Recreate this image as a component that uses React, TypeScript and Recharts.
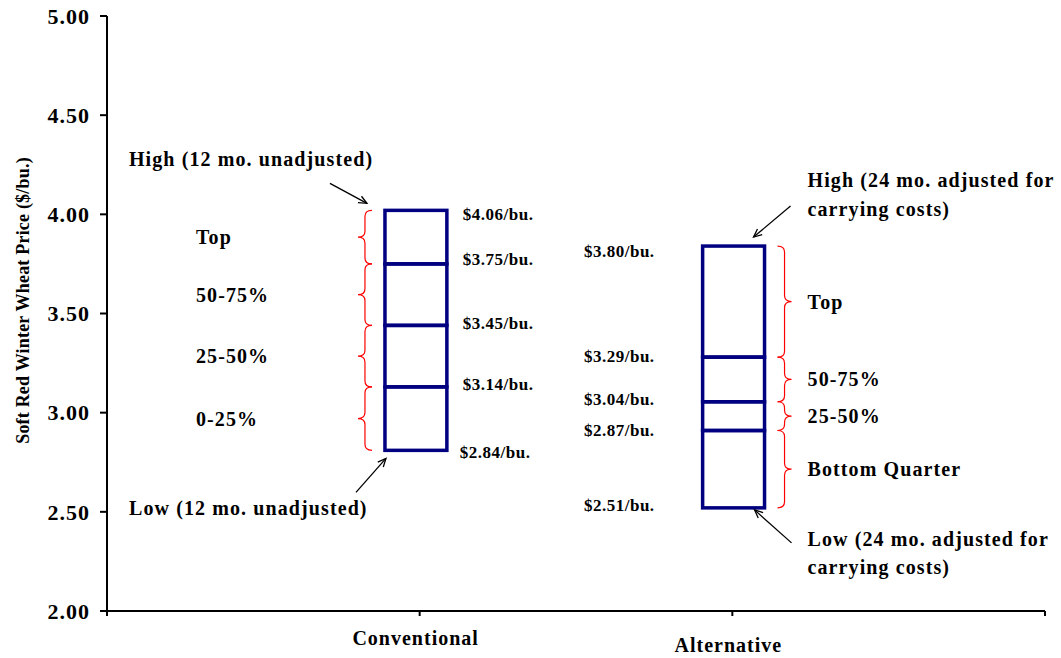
import { ComposedChart, XAxis, YAxis, ReferenceArea, Line } from 'recharts'

const categories = ['Conventional', 'Alternative']
// box edges top to bottom, $/bu. (as drawn)
const conventionalLevels = [4.02, 3.75, 3.44, 3.13, 2.81]
const alternativeLevels = [3.84, 3.28, 3.055, 2.91, 2.52]
const conventionalPrices = ['$4.06/bu.', '$3.75/bu.', '$3.45/bu.', '$3.14/bu.', '$2.84/bu.']
const alternativePrices = ['$3.80/bu.', '$3.29/bu.', '$3.04/bu.', '$2.87/bu.', '$2.51/bu.']
const conventionalBands = ['Top', '50-75%', '25-50%', '0-25%']
const alternativeBands = ['Top', '50-75%', '25-50%', 'Bottom Quarter']
const conventionalHigh = ['High (12 mo. unadjusted)']
const conventionalLow = ['Low (12 mo. unadjusted)']
const alternativeHigh = ['High (24 mo. adjusted for', 'carrying costs)']
const alternativeLow = ['Low (24 mo. adjusted for', 'carrying costs)']
const yTicks = [2, 2.5, 3, 3.5, 4, 4.5, 5]
const xTicks = [0, 1, 2, 3]

const FONT = '"Liberation Serif", "Times New Roman", serif'
const NAVY = '#000080'
const HALF_W = 0.099

const boxes = [
  {
    name: categories[0], levels: conventionalLevels, prices: conventionalPrices, bands: conventionalBands,
    high: conventionalHigh, low: conventionalLow, side: 'left', shift: -0.012,
    priceDy: [10, 1, 4, 3, 8],
  },
  {
    name: categories[1], levels: alternativeLevels, prices: alternativePrices, bands: alternativeBands,
    high: alternativeHigh, low: alternativeLow, side: 'right', shift: 0.004,
    priceDy: [11, 5, 3, 5, 3],
  },
]

const chartData = boxes.map((b, i) => ({
  x: i + 1,
  name: b.name,
  high: b.levels[0],
  low: b.levels[b.levels.length - 1],
}))

const bold = { fontFamily: FONT, fontWeight: 'bold' as const, fill: '#000' }

function bracePath(y1: number, y2: number, endX: number, spineX: number, tipX: number) {
  const r = 6
  const m = (y1 + y2) / 2
  return `M${endX},${y1} Q${spineX},${y1} ${spineX},${y1 + r} L${spineX},${m - r} Q${spineX},${m} ${tipX},${m} ` +
    `Q${spineX},${m} ${spineX},${m + r} L${spineX},${y2 - r} Q${spineX},${y2} ${endX},${y2}`
}

function Arrow({ x1, y1, x2, y2 }: { x1: number; y1: number; x2: number; y2: number }) {
  const a = Math.atan2(y2 - y1, x2 - x1)
  const L = 9
  const s = 0.42
  const p1 = `${x2 - L * Math.cos(a - s)},${y2 - L * Math.sin(a - s)}`
  const p2 = `${x2 - L * Math.cos(a + s)},${y2 - L * Math.sin(a + s)}`
  return (
    <g>
      <line x1={x1} y1={y1} x2={x2} y2={y2} stroke="#000" strokeWidth={1.3} />
      <path d={`M${p1} L${x2},${y2} L${p2}`} fill="none" stroke="#000" strokeWidth={1.3} />
    </g>
  )
}

function makeSegment(b: (typeof boxes)[number], i: number) {
  return (props: any) => {
    const { x, y, width, height } = props
    const left = b.side === 'left'
    const edge = left ? x : x + width
    const dir = left ? -1 : 1
    const last = i === b.bands.length - 1
    const priceX = left ? x + width + 16 : x - 48
    const anchor = left ? 'start' : 'end'
    return (
      <g>
        <rect x={x} y={y} width={width} height={height} fill="none" stroke={NAVY} strokeWidth={3.5} />
        <path
          d={bracePath(y, y + height, edge + dir * 13, edge + dir * 20, edge + dir * 27)}
          fill="none" stroke="#ff0000" strokeWidth={1.2}
        />
        <text x={left ? x - 189 : x + width + 43} y={y + height / 2 + 7} fontSize={20} letterSpacing={1.1} {...bold}>
          {b.bands[i]}
        </text>
        <text x={priceX} y={y + b.priceDy[i]} fontSize={17} letterSpacing={0.5} textAnchor={anchor} {...bold}>
          {b.prices[i]}
        </text>
        {last && (
          <text x={left ? priceX - 3 : priceX} y={y + height + b.priceDy[i + 1]} fontSize={17} letterSpacing={0.5} textAnchor={anchor} {...bold}>
            {b.prices[i + 1]}
          </text>
        )}
      </g>
    )
  }
}

function makeNotes(b: (typeof boxes)[number]) {
  return (props: any) => {
    const { x, y, width, height } = props
    const bottom = y + height
    const right = x + width
    if (b.side === 'left') {
      return (
        <g>
          <text x={x - 256} y={y - 44} fontSize={20} letterSpacing={1.1} {...bold}>{b.high[0]}</text>
          <Arrow x1={x - 55} y1={y - 27} x2={x - 18} y2={y - 7} />
          <text x={x - 256} y={bottom + 65} fontSize={20} letterSpacing={1.1} {...bold}>{b.low[0]}</text>
          <Arrow x1={x - 29} y1={bottom + 42} x2={x + 1} y2={bottom + 8} />
        </g>
      )
    }
    return (
      <g>
        {b.high.map((t, k) => (
          <text key={k} x={right + 43} y={y - 59 + k * 29} fontSize={20} letterSpacing={1.1} {...bold}>{t}</text>
        ))}
        <Arrow x1={right + 26} y1={y - 40} x2={right - 11} y2={y - 9} />
        {b.low.map((t, k) => (
          <text key={k} x={right + 43} y={bottom + 38 + k * 28} fontSize={20} letterSpacing={1.1} {...bold}>{t}</text>
        ))}
        <Arrow x1={right + 27} y1={bottom + 35} x2={right - 10} y2={bottom + 2} />
      </g>
    )
  }
}

function CategoryTick(props: any) {
  const { x, y, payload } = props
  const idx = payload.value - 1
  if (idx < 0 || idx >= categories.length) return null
  const dy = idx === 0 ? 27 : 34
  return (
    <text x={x - 4} y={y + dy} textAnchor="middle" fontSize={20} letterSpacing={1} {...bold}>
      {categories[idx]}
    </text>
  )
}

export default function App() {
  return (
    <div style={{ position: 'absolute', left: 0, top: 0, background: '#fff' }}>
      <ComposedChart width={1061} height={658} data={chartData} margin={{ top: 16, right: 16, left: 7, bottom: 7 }}>
        <XAxis
          type="number"
          dataKey="x"
          domain={[0, 3]}
          ticks={xTicks}
          interval={0}
          height={40}
          axisLine={{ stroke: '#000', strokeWidth: 2 }}
          tickLine={{ stroke: '#000', strokeWidth: 2 }}
          tickSize={5}
          tick={<CategoryTick />}
        />
        <YAxis
          type="number"
          domain={[2, 5]}
          ticks={yTicks}
          interval={0}
          width={100}
          axisLine={{ stroke: '#000', strokeWidth: 2 }}
          tickLine={{ stroke: '#000', strokeWidth: 2 }}
          tickSize={7}
          tickMargin={10}
          tickFormatter={(v: number) => v.toFixed(2)}
          tick={{ fontSize: 22, fontFamily: FONT, fontWeight: 'bold', fill: '#000', letterSpacing: 1 }}
          label={{
            content: (p: any) => {
              const vb = p.viewBox
              const cx = vb.x + 16
              const cy = vb.y + vb.height / 2 - 13
              return (
                <text x={cx} y={cy} transform={`rotate(-90 ${cx} ${cy})`} textAnchor="middle" dominantBaseline="central" fontSize={18} letterSpacing={0.2} {...bold}>
                  Soft Red Winter Wheat Price ($/bu.)
                </text>
              )
            },
          }}
        />
        <Line dataKey="high" stroke="none" dot={false} activeDot={false} legendType="none" isAnimationActive={false} />
        <Line dataKey="low" stroke="none" dot={false} activeDot={false} legendType="none" isAnimationActive={false} />
        {boxes.map((b, bi) =>
          b.bands.map((_, i) => (
            <ReferenceArea
              key={`${bi}-${i}`}
              x1={bi + 1 + b.shift - HALF_W}
              x2={bi + 1 + b.shift + HALF_W}
              y1={b.levels[i + 1]}
              y2={b.levels[i]}
              shape={makeSegment(b, i)}
            />
          ))
        )}
        {boxes.map((b, bi) => (
          <ReferenceArea
            key={`notes-${bi}`}
            x1={bi + 1 + b.shift - HALF_W}
            x2={bi + 1 + b.shift + HALF_W}
            y1={b.levels[b.levels.length - 1]}
            y2={b.levels[0]}
            shape={makeNotes(b)}
          />
        ))}
      </ComposedChart>
    </div>
  )
}
